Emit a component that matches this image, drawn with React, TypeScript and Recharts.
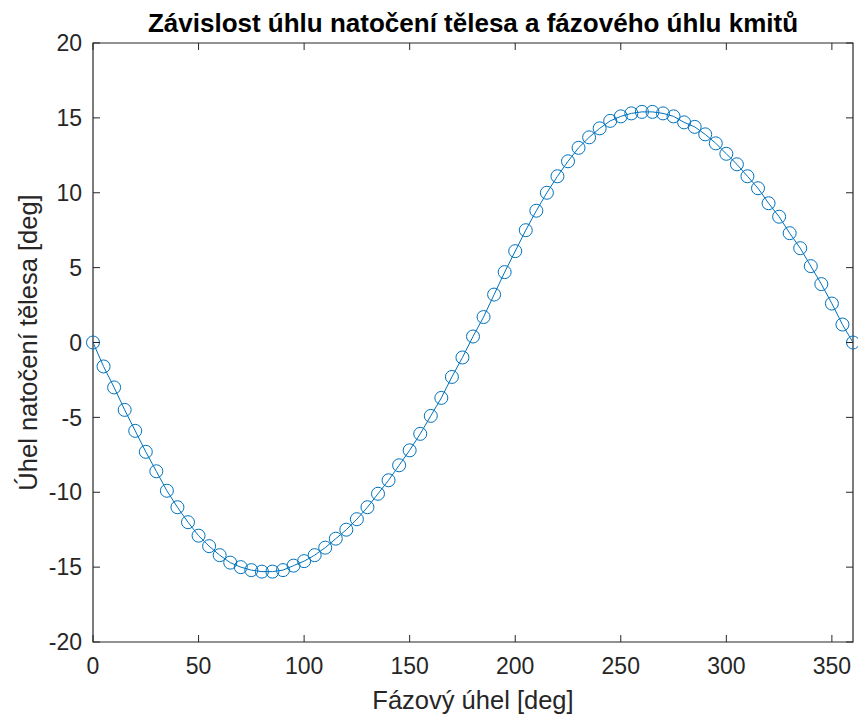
import React from 'react';
import { LineChart, Line, XAxis, YAxis, ReferenceArea } from 'recharts';

// Fázový úhel [deg]
const ANGLES = [
  0, 5, 10, 15, 20, 25, 30, 35, 40, 45, 50, 55, 60, 65, 70, 75, 80, 85, 90, 95,
  100, 105, 110, 115, 120, 125, 130, 135, 140, 145, 150, 155, 160, 165, 170, 175,
  180, 185, 190, 195, 200, 205, 210, 215, 220, 225, 230, 235, 240, 245, 250, 255,
  260, 265, 270, 275, 280, 285, 290, 295, 300, 305, 310, 315, 320, 325, 330, 335,
  340, 345, 350, 355, 360
];

// Úhel natočení tělesa [deg]
const BODY_ANGLES = [
  0, -1.6, -3.0, -4.5, -5.9, -7.3, -8.6, -9.9, -11.0, -12.0, -12.9, -13.6, -14.2, -14.7, -15.0, -15.2, -15.3, -15.3, -15.2, -14.9,
  -14.6, -14.2, -13.7, -13.1, -12.5, -11.8, -11.0, -10.1, -9.2, -8.2, -7.2, -6.1, -4.9, -3.7, -2.3, -1.0,
  0.4, 1.7, 3.2, 4.7, 6.1, 7.5, 8.8, 10.0, 11.1, 12.1, 13.0, 13.7, 14.3, 14.8, 15.1, 15.3,
  15.4, 15.4, 15.3, 15.1, 14.7, 14.4, 13.9, 13.3, 12.6, 11.9, 11.1, 10.3, 9.3, 8.4, 7.3, 6.3,
  5.1, 3.9, 2.6, 1.2, 0
];

const X_TICKS = [0, 50, 100, 150, 200, 250, 300, 350];
const Y_TICKS = [-20, -15, -10, -5, 0, 5, 10, 15, 20];

const TITLE = 'Závislost úhlu natočení tělesa a fázového úhlu kmitů';
const X_LABEL = 'Fázový úhel [deg]';
const Y_LABEL = 'Úhel natočení tělesa [deg]';

const data = ANGLES.map((a, i) => ({ angle: a, value: BODY_ANGLES[i] }));

// layout (MATLAB-like box with inward ticks)
const W = 858;
const H = 715;
const PLOT_LEFT = 93;
const PLOT_RIGHT = 853;
const PLOT_TOP = 43;
const PLOT_BOTTOM = 642;
const TICK_LEN = 7;

const FONT = '"Liberation Sans", Arial, Helvetica, sans-serif';
const AXIS_COLOR = '#262626';
const LINE_COLOR = '#0072BD';

const XTick = (props: any) => {
  const { x, y, payload } = props;
  return (
    <g>
      <line x1={x} x2={x} y1={PLOT_BOTTOM} y2={PLOT_BOTTOM - TICK_LEN} stroke={AXIS_COLOR} />
      <line x1={x} x2={x} y1={PLOT_TOP} y2={PLOT_TOP + TICK_LEN} stroke={AXIS_COLOR} />
      <text x={x} y={y} dy="0.71em" textAnchor="middle" fontFamily={FONT} fontSize={23} fill={AXIS_COLOR}>
        {payload.value}
      </text>
    </g>
  );
};

const YTick = (props: any) => {
  const { x, y, payload } = props;
  return (
    <g>
      <line x1={PLOT_LEFT} x2={PLOT_LEFT + TICK_LEN} y1={y} y2={y} stroke={AXIS_COLOR} />
      <line x1={PLOT_RIGHT} x2={PLOT_RIGHT - TICK_LEN} y1={y} y2={y} stroke={AXIS_COLOR} />
      <text x={x} y={y} dy="0.355em" textAnchor="end" fontFamily={FONT} fontSize={23} fill={AXIS_COLOR}>
        {payload.value}
      </text>
    </g>
  );
};

const YLabel = (props: any) => {
  const { viewBox } = props;
  const cx = 28;
  const cy = viewBox.y + viewBox.height / 2;
  return (
    <text
      x={cx}
      y={cy}
      transform={`rotate(-90 ${cx} ${cy})`}
      textAnchor="middle"
      dominantBaseline="central"
      fontFamily={FONT}
      fontSize={25.5}
      fill={AXIS_COLOR}
    >
      {Y_LABEL}
    </text>
  );
};

const XLabel = (props: any) => {
  const { viewBox } = props;
  return (
    <g>
      <text
        x={viewBox.x + viewBox.width / 2}
        y={H - 6}
        textAnchor="middle"
        fontFamily={FONT}
        fontSize={25.5}
        fill={AXIS_COLOR}
      >
        {X_LABEL}
      </text>
      <text
        x={viewBox.x + viewBox.width / 2}
        y={32}
        textAnchor="middle"
        fontFamily={FONT}
        fontSize={26}
        fontWeight="bold"
        fill="#000"
      >
        {TITLE}
      </text>
    </g>
  );
};

export default function App() {
  return (
    <div style={{ position: 'absolute', left: 0, top: 0, background: '#fff' }}>
      <LineChart
        width={W}
        height={H}
        data={data}
        margin={{ top: PLOT_TOP, right: W - PLOT_RIGHT, bottom: 0, left: 0 }}
      >
        <XAxis
          dataKey="angle"
          type="number"
          domain={[0, 360]}
          ticks={X_TICKS}
          interval={0}
          height={H - PLOT_BOTTOM}
          axisLine={false}
          tickLine={false}
          tickSize={0}
          tickMargin={16}
          tick={XTick}
          label={XLabel}
        />
        <YAxis
          type="number"
          domain={[-20, 20]}
          ticks={Y_TICKS}
          interval={0}
          width={PLOT_LEFT}
          axisLine={false}
          tickLine={false}
          tickSize={0}
          tickMargin={11}
          tick={YTick}
          label={YLabel}
        />
        <ReferenceArea
          x1={0}
          x2={360}
          y1={-20}
          y2={20}
          fill="none"
          fillOpacity={0}
          stroke={AXIS_COLOR}
          strokeWidth={1.2}
          ifOverflow="visible"
        />
        <Line
          type="linear"
          dataKey="value"
          stroke={LINE_COLOR}
          strokeWidth={1}
          dot={{ r: 6.5, stroke: LINE_COLOR, strokeWidth: 1, fill: 'none' }}
          activeDot={false}
          isAnimationActive={false}
        />
      </LineChart>
    </div>
  );
}
